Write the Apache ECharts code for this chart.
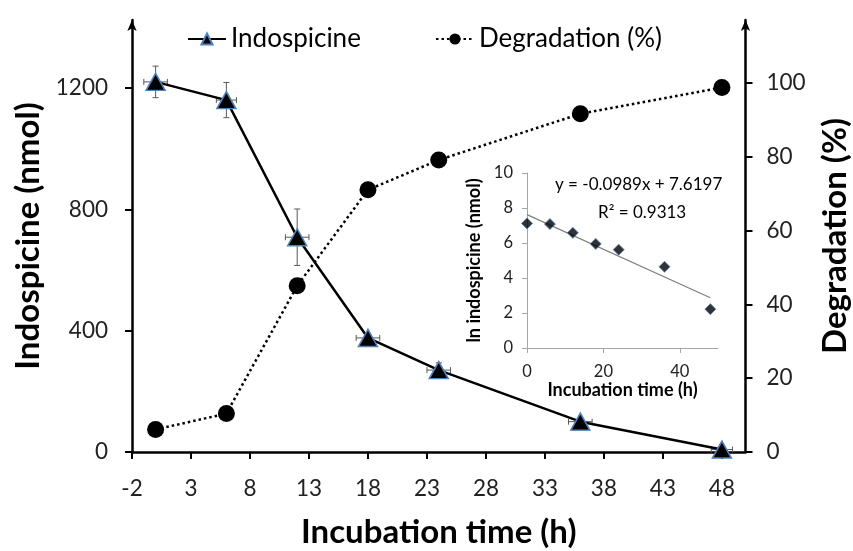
<!DOCTYPE html>
<html>
<head>
<meta charset="utf-8">
<script src="https://cdn.jsdelivr.net/npm/echarts@6/dist/echarts.min.js"></script>
<style>
html,body{margin:0;padding:0;background:#fff;}
#chart{width:853px;height:551px;}
</style>
</head>
<body>
<div id="chart"></div>
<script>
// ---- data ----
const times = [0, 6, 12, 18, 24, 36, 48];
const indospicine = [1220, 1160, 708, 376, 270, 100, 8];
const indoYErr = [52, 58, 93, 14, 24, 10, 8];
const indoXErr = [1.0, 0.85, 1.0, 1.0, 1.0, 1.0, 0.9];
const degradation = [6.1, 10.4, 45.0, 71.0, 79.1, 91.6, 98.7];
const lnIndospicine = [7.12, 7.08, 6.58, 5.95, 5.62, 4.64, 2.22];
const trendTimes = [0, 48];
const trendValues = [7.62, 2.87];
const xTickLabels = [-2, 3, 8, 13, 18, 23, 28, 33, 38, 43, 48];
const leftTickLabels = [0, 400, 800, 1200];
const rightTickLabels = [0, 20, 40, 60, 80, 100];
const insetXTickLabels = [0, 20, 40];
const insetYTickLabels = [0, 2, 4, 6, 8, 10];
const equationText = 'y = -0.0989x + 7.6197';
const r2Text = 'R\u00B2 = 0.9313';

const FONT = 'Lato';
const indoData = times.map((t, i) => [t, indospicine[i]]);
const degData = times.map((t, i) => [t, degradation[i]]);
const errData = times.map((t, i) => [t, indospicine[i], indoYErr[i], indoXErr[i]]);
const lnData = times.map((t, i) => [t, lnIndospicine[i]]);
const trendData = trendTimes.map((t, i) => [t, trendValues[i]]);

const chart = echarts.init(document.getElementById('chart'), null, {renderer: 'canvas'});

function errRender(params, api) {
  const x = api.value(0), y = api.value(1), ey = api.value(2), ex = api.value(3);
  const top = api.coord([x, y + ey]);
  const bot = api.coord([x, y - ey]);
  const left = api.coord([x - ex, y]);
  const right = api.coord([x + ex, y]);
  const c = 3;
  const style = {stroke: '#595959', lineWidth: 1};
  return {
    type: 'group',
    children: [
      {type: 'line', shape: {x1: top[0], y1: top[1], x2: bot[0], y2: bot[1]}, style},
      {type: 'line', shape: {x1: top[0] - c, y1: top[1], x2: top[0] + c, y2: top[1]}, style},
      {type: 'line', shape: {x1: bot[0] - c, y1: bot[1], x2: bot[0] + c, y2: bot[1]}, style},
      {type: 'line', shape: {x1: left[0], y1: left[1], x2: right[0], y2: right[1]}, style},
      {type: 'line', shape: {x1: left[0], y1: left[1] - c, x2: left[0], y2: left[1] + c}, style},
      {type: 'line', shape: {x1: right[0], y1: right[1] - c, x2: right[0], y2: right[1] + c}, style}
    ]
  };
}

const plain = v => String(v);
const mainAxisLine = {show: true, onZero: false, lineStyle: {color: '#000', width: 2.5}};
const mainTick = {show: true, inside: false, length: 7, lineStyle: {color: '#000', width: 2}};
const mainLabel = {color: '#222', fontFamily: FONT, fontSize: 22.5, formatter: plain};
const titleStyle = {color: '#000', fontFamily: FONT, fontSize: 33, fontWeight: 'bold'};

const insetAxisLine = {show: true, onZero: false, lineStyle: {color: '#a6a6a6', width: 1}};
const insetTick = {show: true, inside: false, length: 5, lineStyle: {color: '#a6a6a6', width: 1}};
const insetLabel = {color: '#222', fontFamily: FONT, fontSize: 16.5, formatter: plain};
const insetTitle = {color: '#000', fontFamily: FONT, fontSize: 18, fontWeight: 'bold'};

const option = {
  backgroundColor: '#fff',
  animation: false,
  legend: [
    {
      data: ['Indospicine'], left: 187, top: 26, padding: 0,
      itemWidth: 38, itemHeight: 14, itemGap: 6,
      textStyle: {color: '#000', fontFamily: FONT, fontSize: 26}
    },
    {
      data: ['Degradation (%)'], left: 435, top: 26, padding: 0,
      itemWidth: 38, itemHeight: 14, itemGap: 6,
      textStyle: {color: '#000', fontFamily: FONT, fontSize: 26}
    }
  ],
  grid: [
    {left: 132, right: 107.5, top: 20, bottom: 99, containLabel: false, outerBoundsMode: 'none'},
    {left: 527, right: 135, top: 173, bottom: 203, containLabel: false, outerBoundsMode: 'none'}
  ],
  xAxis: [
    {
      type: 'value', gridIndex: 0, min: -2, max: 50, position: 'bottom',
      name: 'Incubation time (h)', nameLocation: 'middle', nameGap: 64, nameTextStyle: titleStyle,
      axisLine: mainAxisLine,
      axisTick: Object.assign({customValues: xTickLabels}, mainTick),
      axisLabel: Object.assign({customValues: xTickLabels, margin: 25}, mainLabel),
      splitLine: {show: false}
    },
    {
      type: 'value', gridIndex: 1, min: 0, max: 50, position: 'bottom',
      name: 'Incubation time (h)', nameLocation: 'middle', nameGap: 33, nameTextStyle: insetTitle,
      axisLine: insetAxisLine,
      axisTick: Object.assign({customValues: insetXTickLabels}, insetTick),
      axisLabel: Object.assign({customValues: insetXTickLabels, margin: 15}, insetLabel),
      splitLine: {show: false}
    }
  ],
  yAxis: [
    {
      type: 'value', gridIndex: 0, min: 0, max: 1424, position: 'left',
      name: 'Indospicine (nmol)', nameLocation: 'middle', nameRotate: 90, nameGap: 85, nameTextStyle: titleStyle,
      axisLine: Object.assign({symbol: ['none', 'arrow'], symbolSize: [7, 11]}, mainAxisLine),
      axisTick: Object.assign({customValues: leftTickLabels}, mainTick),
      axisLabel: Object.assign({customValues: leftTickLabels, margin: 24}, mainLabel),
      splitLine: {show: false}
    },
    {
      type: 'value', gridIndex: 0, min: 0, max: 117, position: 'right',
      name: 'Degradation (%)', nameLocation: 'middle', nameRotate: 90, nameGap: 73, nameTextStyle: titleStyle,
      axisLine: Object.assign({symbol: ['none', 'arrow'], symbolSize: [7, 11]}, mainAxisLine),
      axisTick: Object.assign({customValues: rightTickLabels}, mainTick),
      axisLabel: Object.assign({customValues: rightTickLabels, margin: 21}, mainLabel),
      splitLine: {show: false}
    },
    {
      type: 'value', gridIndex: 1, min: 0, max: 10, position: 'left',
      name: 'ln indospicine (nmol)', nameLocation: 'middle', nameRotate: 90, nameGap: 44, nameTextStyle: insetTitle,
      axisLine: insetAxisLine,
      axisTick: Object.assign({customValues: insetYTickLabels}, insetTick),
      axisLabel: Object.assign({customValues: insetYTickLabels, margin: 14}, insetLabel),
      splitLine: {show: false}
    }
  ],
  graphic: [
    {type: 'text', left: 555, top: 176, style: {text: equationText, fill: '#000', font: '17px ' + FONT}, z: 10},
    {type: 'text', left: 598, top: 204, style: {text: r2Text, fill: '#000', font: '17px ' + FONT}, z: 10}
  ],
  series: [
    {
      name: 'Degradation (%)', type: 'line', xAxisIndex: 0, yAxisIndex: 1, data: degData,
      symbol: 'circle', symbolSize: 17, z: 3,
      itemStyle: {color: '#000'},
      lineStyle: {color: '#000', width: 2.5, type: [2.5, 3]}
    },
    {
      name: 'IndoErr', type: 'custom', xAxisIndex: 0, yAxisIndex: 0, data: errData,
      renderItem: errRender, encode: {x: 0, y: 1}, z: 4, silent: true
    },
    {
      name: 'Indospicine', type: 'line', xAxisIndex: 0, yAxisIndex: 0, data: indoData,
      symbol: 'triangle', symbolSize: [19, 17], z: 5,
      itemStyle: {color: '#000', borderColor: '#4f81bd', borderWidth: 1.5},
      lineStyle: {color: '#000', width: 2.5}
    },
    {
      name: 'Trend', type: 'line', xAxisIndex: 1, yAxisIndex: 2, data: trendData,
      symbol: 'none', z: 6,
      lineStyle: {color: '#7f7f7f', width: 1.2}
    },
    {
      name: 'ln', type: 'scatter', xAxisIndex: 1, yAxisIndex: 2, data: lnData,
      symbol: 'diamond', symbolSize: 11, z: 7,
      itemStyle: {color: '#000', borderColor: '#4f81bd', borderWidth: 1}
    }
  ]
};
chart.setOption(option);
</script>
</body>
</html>
